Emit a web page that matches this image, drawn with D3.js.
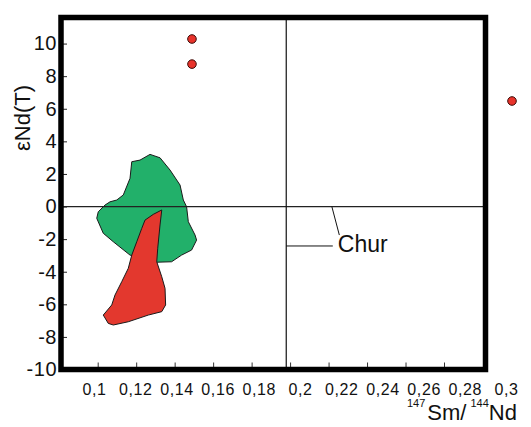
<!DOCTYPE html>
<html>
<head>
<meta charset="utf-8">
<script src="https://cdn.jsdelivr.net/npm/d3@7"></script>
<style>
  body { margin: 0; background: #fff; }
  svg { display: block; font-family: "Liberation Sans", Arial, sans-serif; }
</style>
</head>
<body>
<svg id="chart"></svg>
<script>
const width = 531;
const height = 427;

// data
const xTicks = [0.1, 0.12, 0.14, 0.16, 0.18, 0.2, 0.22, 0.24, 0.26, 0.28];
const xLabels = [0.1, 0.12, 0.14, 0.16, 0.18, 0.2, 0.22, 0.24, 0.26, 0.28, 0.3];
const yTicks = [-10, -8, -6, -4, -2, 0, 2, 4, 6, 8, 10];
const samples = [
    {x: 0.149, y: 10.28},
    {x: 0.149, y: 8.74}
];
const greenField = [
    [0.1177, 2.75], [0.1220, 2.85], [0.1272, 3.20], [0.1324, 2.99], [0.1376, 2.24],
    [0.1428, 1.32], [0.1445, 0.40], [0.1462, -0.01], [0.1471, -0.93], [0.1506, -1.75],
    [0.1514, -2.06], [0.1488, -2.67], [0.1436, -2.98], [0.1384, -3.39], [0.1298, -3.42],
    [0.1168, -2.98], [0.1081, -2.16], [0.1029, -1.64], [0.0995, -0.72], [0.1003, -0.32],
    [0.1038, 0.09], [0.1064, 0.29], [0.1099, 0.40], [0.1133, 0.71], [0.1168, 1.73]
];
const redField = [
    [0.1333, -0.21], [0.1324, -1.13], [0.1312, -2.56], [0.1307, -3.39], [0.1333, -4.31],
    [0.1350, -5.02], [0.1353, -6.04], [0.1333, -6.45], [0.1263, -6.66], [0.1159, -7.07],
    [0.1081, -7.27], [0.1055, -7.17], [0.1029, -6.66], [0.1073, -6.04], [0.1090, -5.43],
    [0.1125, -4.61], [0.1159, -3.79], [0.1177, -2.98], [0.1203, -2.16], [0.1229, -1.34],
    [0.1246, -0.83], [0.1289, -0.48]
];
const churX = 0.198;
const churY = 0;
const churLabel = {x: 0.2248, y: -2.77, text: 'Chur'};

// layout
const frame = {left: 61, right: 485.5, top: 17.5, bottom: 369.5};

const svg = d3.select('#chart')
    .attr('width', width)
    .attr('height', height);

const x = d3.scaleLinear().domain([0.1, 0.28]).range([97.7, 444]);
const xLabelScale = d3.scaleLinear().domain([0.1, 0.3]).range([94, 506]);
const y = d3.scaleLinear().domain([-10, 11.6]).range([frame.bottom, frame.top]);

const line = d3.line().x(d => x(d[0])).y(d => y(d[1]));

// fields
svg.append('path')
    .datum(greenField)
    .attr('d', line.curve(d3.curveLinearClosed))
    .attr('fill', '#22b06a')
    .attr('stroke', '#1a1a1a')
    .attr('stroke-width', 1);

svg.append('path')
    .datum(redField)
    .attr('d', line.curve(d3.curveLinearClosed))
    .attr('fill', '#e3382e')
    .attr('stroke', '#1a1a1a')
    .attr('stroke-width', 1);

// chur lines
svg.append('line')
    .attr('x1', frame.left).attr('x2', frame.right)
    .attr('y1', y(churY)).attr('y2', y(churY))
    .attr('stroke', '#222')
    .attr('stroke-width', 1.3);

svg.append('line')
    .attr('x1', x(churX)).attr('x2', x(churX))
    .attr('y1', frame.top).attr('y2', frame.bottom)
    .attr('stroke', '#111')
    .attr('stroke-width', 1.2);

// chur leaders + label
svg.append('line')
    .attr('x1', x(0.2217)).attr('y1', y(churY))
    .attr('x2', x(0.2256)).attr('y2', y(-1.75))
    .attr('stroke', '#111')
    .attr('stroke-width', 1);

svg.append('line')
    .attr('x1', x(churX)).attr('y1', y(-2.42))
    .attr('x2', x(0.2222)).attr('y2', y(-2.42))
    .attr('stroke', '#111')
    .attr('stroke-width', 1);

svg.append('text')
    .attr('x', x(churLabel.x))
    .attr('y', y(churLabel.y))
    .attr('font-size', 23)
    .attr('fill', '#111')
    .text(churLabel.text);

// sample points
svg.selectAll('circle.sample').data(samples)
    .enter()
    .append('circle')
    .attr('class', 'sample')
    .attr('cx', d => x(d.x))
    .attr('cy', d => y(d.y))
    .attr('r', 4.3)
    .attr('fill', '#e8332b')
    .attr('stroke', '#3a0c08')
    .attr('stroke-width', 1);

// legend symbol (its text is cut off at the edge)
svg.append('circle')
    .attr('cx', 512)
    .attr('cy', 101)
    .attr('r', 4.3)
    .attr('fill', '#e8332b')
    .attr('stroke', '#3a0c08')
    .attr('stroke-width', 1);

// axes
const yAxis = svg.append('g')
    .attr('transform', `translate(${frame.left}, 0)`)
    .call(d3.axisLeft(y).tickValues(yTicks).tickSizeInner(-6).tickSizeOuter(0).tickPadding(4)
        .tickFormat(d => String(d)));
yAxis.select('.domain').remove();
yAxis.selectAll('text')
    .attr('font-size', 20)
    .attr('font-family', '"Liberation Sans", Arial, sans-serif')
    .attr('letter-spacing', 0.5)
    .attr('fill', '#111');
yAxis.selectAll('line').attr('stroke', '#222');

const xAxis = svg.append('g')
    .attr('transform', `translate(0, ${frame.bottom})`)
    .call(d3.axisBottom(x).tickValues(xTicks).tickSizeInner(-7).tickSizeOuter(0).tickFormat(''));
xAxis.select('.domain').remove();
xAxis.selectAll('line').attr('stroke', '#333');

const xLabelAxis = svg.append('g')
    .attr('transform', `translate(0, ${frame.bottom})`)
    .call(d3.axisBottom(xLabelScale).tickValues(xLabels).tickSize(0).tickPadding(14)
        .tickFormat(d => String(d).replace('.', ',')));
xLabelAxis.select('.domain').remove();
xLabelAxis.selectAll('text')
    .attr('font-size', 16)
    .attr('font-family', '"Liberation Sans", Arial, sans-serif')
    .attr('letter-spacing', 0.6)
    .attr('fill', '#111');

// frame
svg.append('rect')
    .attr('x', frame.left)
    .attr('y', frame.top)
    .attr('width', frame.right - frame.left)
    .attr('height', frame.bottom - frame.top)
    .attr('fill', 'none')
    .attr('stroke', '#000')
    .attr('stroke-width', 5.5);

// axis titles
svg.append('text')
    .attr('transform', 'translate(30, 118) rotate(-90)')
    .attr('text-anchor', 'middle')
    .attr('font-size', 22)
    .attr('fill', '#111')
    .text('εNd(T)');

const xTitle = svg.append('text')
    .attr('x', 407)
    .attr('y', 420)
    .attr('fill', '#111');
xTitle.append('tspan').attr('font-size', 11).attr('dy', -13).text('147');
xTitle.append('tspan').attr('font-size', 22).attr('dy', 13).attr('dx', 2).text('Sm/');
xTitle.append('tspan').attr('font-size', 11).attr('dy', -13).attr('dx', 4).text('144');
xTitle.append('tspan').attr('font-size', 22).attr('dy', 13).text('Nd');
</script>
</body>
</html>
